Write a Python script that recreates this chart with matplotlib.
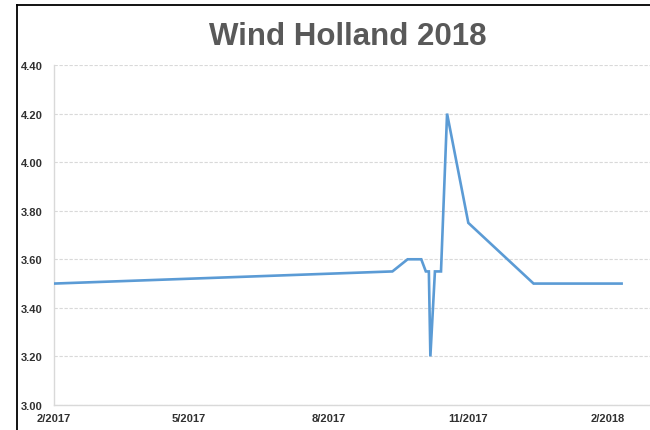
import numpy as np
import pandas as pd
import matplotlib
matplotlib.use('Agg')
import matplotlib.pyplot as plt
from matplotlib.lines import Line2D

# wind values
dates = ['2017-02-01', '2017-09-12', '2017-09-22', '2017-10-01', '2017-10-04',
         '2017-10-06', '2017-10-07', '2017-10-10', '2017-10-14', '2017-10-18',
         '2017-11-01', '2017-12-14', '2018-02-10']
values = [3.50, 3.55, 3.60, 3.60, 3.55, 3.55, 3.20, 3.55, 3.55, 4.20, 3.75, 3.50, 3.50]
xticks = ['2017-02-01', '2017-05-01', '2017-08-01', '2017-11-01', '2018-02-01']
yticks = [3.00, 3.20, 3.40, 3.60, 3.80, 4.00, 4.20, 4.40]

GRID = '#D9D9D9'
TEXT = '#303030'
LINE = '#5B9BD5'

plt.rcParams['font.family'] = ['Liberation Sans', 'DejaVu Sans']

fig = plt.figure(figsize=(6.5, 4.31), dpi=100)
ax = fig.add_axes([54 / 650, 1 - 406 / 431, 1 - 54 / 650 + 0.01, (406 - 66) / 431])

x = pd.to_datetime(dates)
ax.plot(x, values, color=LINE, lw=1.9, solid_joinstyle='miter', zorder=3)

ax.set_xlim(pd.Timestamp('2017-02-01'), pd.Timestamp('2018-03-05'))
ax.set_ylim(3.0, 4.4)
ax.set_yticks(yticks)
ax.set_yticklabels(['%.2f' % v for v in yticks])
ax.set_xticks(pd.to_datetime(xticks))
ax.set_xticklabels([f'{d.month}/{d.year}' for d in pd.to_datetime(xticks)])

ax.grid(axis='y', color=GRID, lw=0.8, linestyle=(0, (3, 1.5)))
ax.set_axisbelow(True)
for s in ['top', 'right']:
    ax.spines[s].set_visible(False)
for s in ['left', 'bottom']:
    ax.spines[s].set_color(GRID)
    ax.spines[s].set_linewidth(1.0)
ax.tick_params(length=0, labelsize=8, labelcolor=TEXT)
ax.tick_params(axis='y', pad=8)
ax.tick_params(axis='x', pad=6)
for lab in ax.get_xticklabels() + ax.get_yticklabels():
    lab.set_fontweight('semibold')

fig.text(0.535, 0.914, 'Wind Holland 2018', ha='center', va='center',
         fontsize=22.5, fontweight='bold', color='#595959')

# black frame from the cropped screenshot
fig.add_artist(Line2D([17 / 650, 17 / 650], [0, 1 - 6 / 431], color='black', lw=1.3,
                      transform=fig.transFigure))
fig.add_artist(Line2D([17 / 650, 1], [1 - 6 / 431, 1 - 6 / 431], color='black', lw=1.3,
                      transform=fig.transFigure))

fig.savefig('out.png', dpi=100)
